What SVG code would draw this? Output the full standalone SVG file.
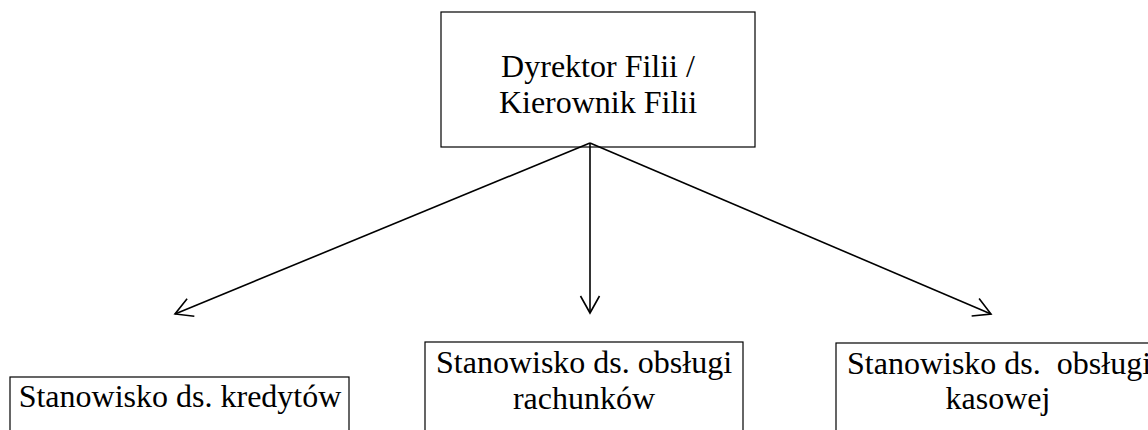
<svg xmlns="http://www.w3.org/2000/svg" width="1148" height="430" viewBox="0 0 1148 430">
<style>
.box{fill:#fff;stroke:#000;stroke-width:1.2}
.t{font-family:"Liberation Serif","Times New Roman",serif;font-size:32px;fill:#000;text-anchor:middle;white-space:pre}
.c{fill:none;stroke:#000;stroke-width:1.6}
</style>
<defs>
<marker id="arr" markerUnits="userSpaceOnUse" markerWidth="24" markerHeight="24" viewBox="-20 -12 24 24" refX="0" refY="0" orient="auto">
<path d="M-17,-9.5 L0,0 L-17,9.5" fill="none" stroke="#000" stroke-width="1.6"/>
</marker>
</defs>
<rect width="1148" height="430" fill="#fff"/>
<g id="node-director">
<rect class="box" x="441" y="12" width="314" height="135"/>
<text class="t" x="598" y="77">Dyrektor Filii /</text>
<text class="t" x="598" y="113">Kierownik Filii</text>
</g>
<g id="node-kredyty">
<rect class="box" x="10" y="377" width="339" height="70"/>
<text class="t" x="180" y="407">Stanowisko ds. kredytów</text>
</g>
<g id="node-rachunki">
<rect class="box" x="425" y="342" width="318" height="105"/>
<text class="t" x="584" y="373">Stanowisko ds. obsługi</text>
<text class="t" x="584" y="409">rachunków</text>
</g>
<g id="node-kasa">
<rect class="box" x="836" y="343" width="322" height="105"/>
<text class="t" x="999" y="374" xml:space="preserve">Stanowisko ds.  obsługi</text>
<text class="t" x="998" y="409">kasowej</text>
</g>
<g id="connectors">
<line class="c" x1="590" y1="143" x2="175" y2="314" marker-end="url(#arr)"/>
<line class="c" x1="590" y1="143" x2="590" y2="313" marker-end="url(#arr)"/>
<line class="c" x1="590" y1="143" x2="991" y2="314" marker-end="url(#arr)"/>
</g>
</svg>
